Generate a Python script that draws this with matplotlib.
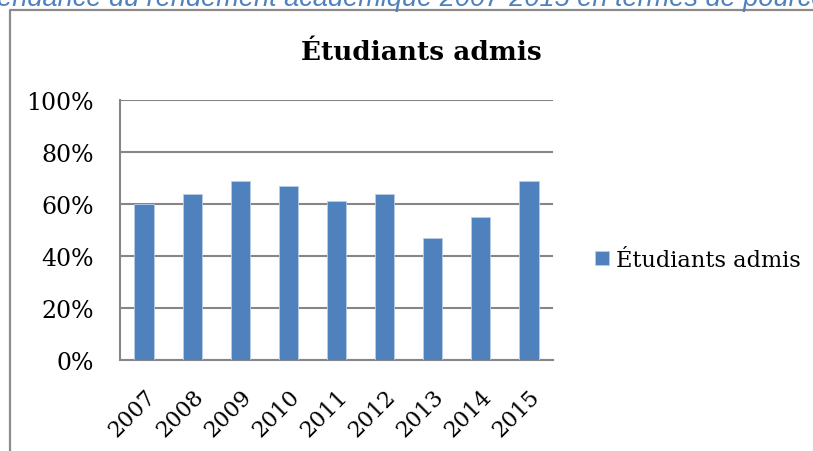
import matplotlib.pyplot as plt
from matplotlib.lines import Line2D
from matplotlib.ticker import PercentFormatter
from matplotlib.transforms import ScaledTranslation

# data
years = ['2007', '2008', '2009', '2010', '2011', '2012', '2013', '2014', '2015']
admis = [60, 64, 69, 67, 61, 64, 47, 55, 69]
series_name = 'Étudiants admis'
caption = 'Tendance du rendement académique 2007-2015 en termes de pourcentage'

bar_color = '#4F81BD'
grid_color = '#868686'
serif = ['DejaVu Serif']

fig = plt.figure(figsize=(8.13, 4.52), dpi=100)

# caption line, cut off by the top of the picture
fig.text(-17 / 813, 1 - 6 / 452, caption, ha='left', va='baseline', fontsize=19.5,
         style='italic', color='#4F81BD', family=['Liberation Sans'])

# chart frame (only left and top edges are visible)
fx, fy = 10 / 813, 1 - 11 / 452
fig.lines.append(Line2D([fx, fx, 1.0], [0.0, fy, fy], transform=fig.transFigure,
                        color='#8C8C8C', linewidth=1.6))

ax = fig.add_axes([120 / 813, 1 - 361 / 452, 433 / 813, 260 / 452])
x = range(len(years))
ax.bar(x, admis, width=0.4, color=bar_color, label=series_name,
       edgecolor='#B9CDE5', linewidth=0.6, zorder=3)

ax.set_xlim(-0.5, len(years) - 0.5)
ax.set_ylim(0, 100)
ax.set_yticks(range(0, 101, 20))
ax.yaxis.set_major_formatter(PercentFormatter(decimals=0))
ax.set_xticks(list(x))
ax.set_xticklabels(years, rotation=45, ha='right', rotation_mode='anchor',
                   family=serif, fontsize=16)
shift = ScaledTranslation(-9 / 100, 0, fig.dpi_scale_trans)
for lab in ax.get_xticklabels():
    lab.set_transform(lab.get_transform() + shift)
for lab in ax.get_yticklabels():
    lab.set_family(serif)
    lab.set_fontsize(17)

ax.grid(axis='y', color=grid_color, linewidth=1.5, zorder=0)
for side in ['top', 'right']:
    ax.spines[side].set_visible(False)
for side in ['left', 'bottom']:
    ax.spines[side].set_color(grid_color)
    ax.spines[side].set_linewidth(1.5)
ax.tick_params(axis='both', length=0)
ax.tick_params(axis='y', pad=19)
ax.tick_params(axis='x', pad=18)

fig.text(421 / 813, 1 - 53 / 452, series_name, ha='center', va='center',
         fontsize=19, fontweight='bold', family=serif)

ax.legend(loc='center left', bbox_to_anchor=(1.05, 0.385), frameon=False,
          prop={'family': serif, 'size': 16.2}, handlelength=0.62,
          handleheight=0.62, handletextpad=0.3)

fig.savefig('out.png', dpi=100)
